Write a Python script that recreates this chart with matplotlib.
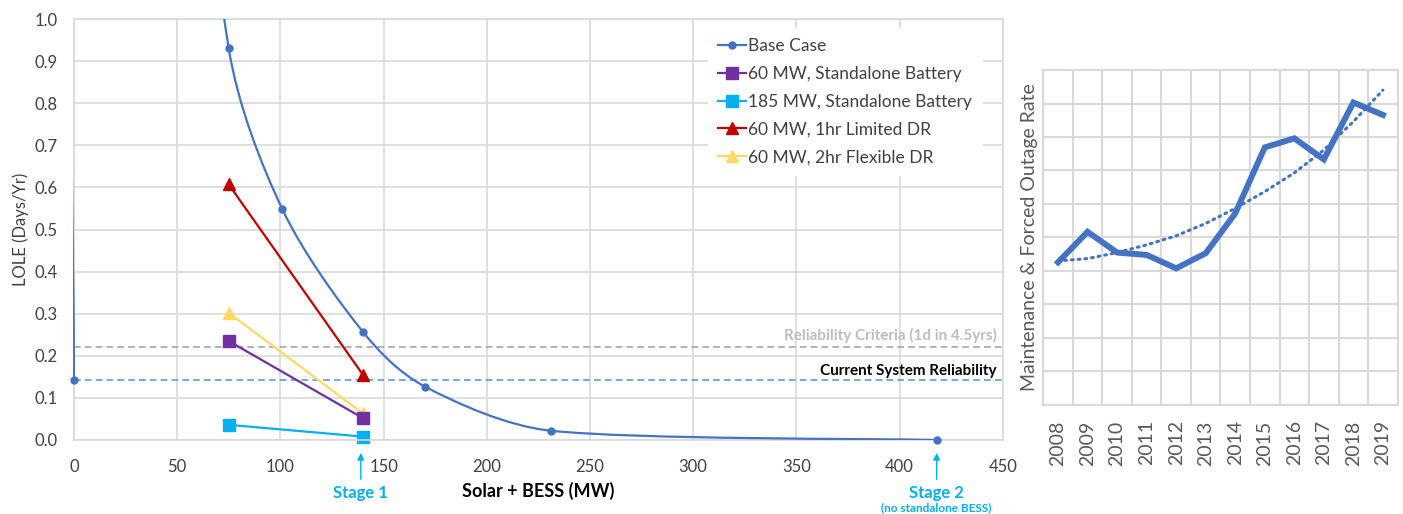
import numpy as np
import matplotlib
matplotlib.use('Agg')
import matplotlib.pyplot as plt
from matplotlib.path import Path
from matplotlib.patches import PathPatch, Rectangle
from matplotlib.lines import Line2D

plt.rcParams['font.family'] = ['Lato', 'DejaVu Sans']

# --- left chart: LOLE vs Solar + BESS ---
# second point sits far above the y range (the curve comes in from off the top)
base_mw = [0, 0, 75, 101, 140, 170, 231, 418]
base_lole = [0.143, 3.6, 0.93, 0.548, 0.257, 0.127, 0.022, 0.0]
step_mw = [75, 140]
batt60_lole = [0.235, 0.052]
batt185_lole = [0.036, 0.008]
dr1hr_lole = [0.607, 0.155]
dr2hr_lole = [0.302, 0.063]
criteria_lole = 0.222
current_lole = 0.143
stage_mw = [139, 418]
stage_labels = ['Stage 1', 'Stage 2']

# --- right chart: outage rate by year ---
years = ['2008', '2009', '2010', '2011', '2012', '2013',
         '2014', '2015', '2016', '2017', '2018', '2019']
outage = [4.26, 5.17, 4.55, 4.48, 4.08, 4.53, 5.72, 7.69, 7.96, 7.33, 9.03, 8.66]
outage_trend = [4.30, 4.37, 4.55, 4.78, 5.05, 5.42, 5.87, 6.37, 6.93, 7.61, 8.46, 9.40]

BLUE = '#4472C4'
PURPLE = '#7030A0'
CYAN = '#00B0F0'
RED = '#C00000'
YELLOW = '#FFD966'
GRID = '#D9D9D9'
TXT = '#404040'


def smooth_path(ax, xs, ys):
    # excel style smoothed line, built in pixel space then mapped back to data
    pts = ax.transData.transform(np.column_stack([xs, ys]).astype(float))
    n = len(pts)
    tang = [(pts[min(i + 1, n - 1)] - pts[max(i - 1, 0)]) / 6 for i in range(n)]
    verts = [pts[0]]
    codes = [Path.MOVETO]
    for i in range(n - 1):
        L = np.hypot(*(pts[i + 1] - pts[i])) / 3
        a = tang[i] * min(1.0, L / np.hypot(*tang[i]))
        b = tang[i + 1] * min(1.0, L / np.hypot(*tang[i + 1]))
        verts += [pts[i] + a, pts[i + 1] - b, pts[i + 1]]
        codes += [Path.CURVE4] * 3
    verts = ax.transData.inverted().transform(np.array(verts))
    return Path(verts, codes)


fig = plt.figure(figsize=(14.03, 5.14), dpi=100)
ax = fig.add_axes([0.0527, 0.144, 0.662, 0.819])

ax.set_xlim(0, 450)
ax.set_ylim(0, 1.0)
ax.set_xticks(np.arange(0, 451, 50))
ax.set_yticks(np.arange(0, 1.01, 0.1))
ax.set_yticklabels(['%.1f' % v for v in np.arange(0, 1.01, 0.1)])
ax.tick_params(length=0, labelsize=12, colors=TXT)
ax.tick_params(axis='x', pad=14)
ax.tick_params(axis='y', pad=12)
ax.grid(True, color=GRID, linewidth=1.2)
ax.set_axisbelow(True)
for s in ax.spines.values():
    s.set_color(GRID)
    s.set_linewidth(1.2)

ax.axhline(criteria_lole, color='#A5A5A5', linestyle='--', linewidth=1.2, dashes=(4, 2.5))
ax.axhline(current_lole, color='#5B9BD5', linestyle='--', linewidth=1.2, dashes=(4, 2.5))
ax.text(447, criteria_lole + 0.027, 'Reliability Criteria (1d in 4.5yrs)', ha='right', va='center',
        fontsize=11, fontweight='bold', color='#BDBDBD')
ax.text(447, current_lole + 0.021, 'Current System Reliability', ha='right', va='center',
        fontsize=11, fontweight='bold', color='black')

curve = PathPatch(smooth_path(ax, base_mw, base_lole), facecolor='none', edgecolor=BLUE,
                  linewidth=1.6, zorder=3)
ax.add_patch(curve)
clip = Rectangle((-0.0015, 0), 1.0015, 1, transform=ax.transAxes, visible=False)
ax.add_patch(clip)
curve.set_clip_path(clip)
vis = [(x, y) for x, y in zip(base_mw, base_lole) if y <= 1.0]
ax.plot([p[0] for p in vis], [p[1] for p in vis], 'o', color=BLUE, markersize=5, clip_on=False, zorder=5)

ax.plot(step_mw, dr1hr_lole, '-^', color=RED, linewidth=1.6, markersize=9, clip_on=False)
ax.plot(step_mw, dr2hr_lole, '-^', color=YELLOW, linewidth=1.6, markersize=9, clip_on=False)
ax.plot(step_mw, batt60_lole, '-s', color=PURPLE, linewidth=1.6, markersize=8, clip_on=False)
ax.plot(step_mw, batt185_lole, '-s', color=CYAN, linewidth=1.6, markersize=8, clip_on=False)

handles = [
    Line2D([], [], color=BLUE, marker='o', markersize=5, linewidth=1.6),
    Line2D([], [], color=PURPLE, marker='s', markersize=8, linewidth=1.6),
    Line2D([], [], color=CYAN, marker='s', markersize=8, linewidth=1.6),
    Line2D([], [], color=RED, marker='^', markersize=9, linewidth=1.6),
    Line2D([], [], color=YELLOW, marker='^', markersize=9, linewidth=1.6),
]
labels = ['Base Case', '60 MW, Standalone Battery', '185 MW, Standalone Battery',
          '60 MW, 1hr Limited DR', '60 MW, 2hr Flexible DR']
leg = ax.legend(handles, labels, loc='upper left', bbox_to_anchor=(0.673, 1.0), frameon=True,
                fontsize=12.5, handlelength=1.6, handletextpad=0.15, labelspacing=0.68,
                borderpad=0.6, fancybox=False, labelcolor=TXT)
leg.get_frame().set_edgecolor('none')
leg.get_frame().set_facecolor('white')
leg.get_frame().set_alpha(1)

ax.set_xlabel('Solar + BESS (MW)', fontsize=13, fontweight='bold', labelpad=5)
ax.set_ylabel('LOLE (Days/Yr)', fontsize=12, color=TXT, labelpad=4)

for mw, lab in zip(stage_mw, stage_labels):
    ax.annotate('', xy=(mw, -0.024), xytext=(mw, -0.1), annotation_clip=False,
                arrowprops=dict(arrowstyle='-|>', color=CYAN, lw=1.0, mutation_scale=10))
    ax.text(mw, -0.126, lab, ha='center', va='center', fontsize=12, fontweight='bold',
            color=CYAN, clip_on=False)
ax.text(stage_mw[1], -0.162, '(no standalone BESS)', ha='center', va='center', fontsize=8.5,
        fontweight='bold', color=CYAN, clip_on=False)

# right chart
ax2 = fig.add_axes([0.7436, 0.2121, 0.2526, 0.6517])
xs = np.arange(len(years))
ax2.plot(xs, outage, color=BLUE, linewidth=4.3, solid_joinstyle='miter')
ax2.plot(xs, outage_trend, color=BLUE, linewidth=2.2, linestyle=(0, (0.6, 1.6)), dash_capstyle='round')
ax2.set_xlim(-0.5, len(years) - 0.5)
ax2.set_ylim(0, 10)
ax2.set_xticks(xs)
ax2.set_xticklabels(years, rotation=90, fontsize=14, color='#595959')
ax2.set_xticks(np.arange(-0.5, len(years), 1), minor=True)
ax2.set_yticks(np.arange(0, 11, 1))
ax2.set_yticklabels([])
ax2.tick_params(which='both', length=0)
ax2.tick_params(axis='x', pad=11)
ax2.grid(True, axis='y', color=GRID, linewidth=1.5)
ax2.grid(True, axis='x', which='minor', color=GRID, linewidth=1.5)
ax2.set_axisbelow(True)
for s in ax2.spines.values():
    s.set_color(GRID)
    s.set_linewidth(1.5)
ax2.set_ylabel('Maintenance & Forced Outage Rate', fontsize=14, color='#595959', labelpad=0)

fig.savefig('out.png', dpi=100)
